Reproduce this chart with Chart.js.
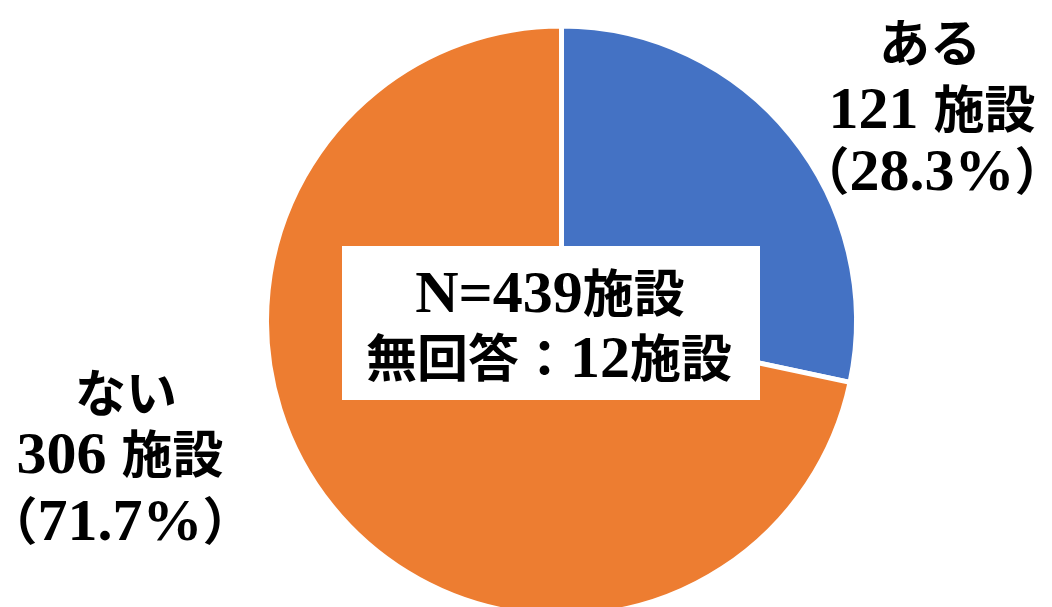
<!DOCTYPE html>
<html>
<head>
<meta charset="utf-8">
<script src="https://cdn.jsdelivr.net/npm/chart.js@4/dist/chart.umd.min.js"></script>
<style>
  html, body { margin: 0; padding: 0; background: #fff; overflow: hidden; }
  #wrap { position: absolute; left: 0; top: 0; width: 1052px; height: 614px; }
</style>
</head>
<body>
<div id="wrap"><canvas id="pie" width="1052" height="614"></canvas></div>
<script>
// datos del gráfico
var categorias = ['ある', 'ない']
var valores = [121, 306]
var porcentajes = ['28.3%', '71.7%']
var colores = ['#4472C4', '#ED7D31']
var totalTexto = ['N=439施設', '無回答：12施設']

var fuenteLatina = 'bold 60px "Liberation Serif", serif'
var fuenteCJK = 'bold 51px "Noto Sans CJK JP", sans-serif'

// separa el texto en tramos latinos y japoneses
function tramos(texto) {
  var partes = []
  for (var i = 0; i < texto.length; i++) {
    var cjk = texto.charCodeAt(i) > 0x2000
    var f = cjk ? fuenteCJK : fuenteLatina
    if (partes.length && partes[partes.length - 1].f === f) {
      partes[partes.length - 1].t += texto[i]
    } else {
      partes.push({ t: texto[i], f: f })
    }
  }
  return partes
}

// dibuja texto mixto centrado en x, sobre la línea base y
function textoMixto(ctx, texto, x, y) {
  var partes = tramos(texto)
  var ancho = 0
  partes.forEach(function (p) {
    ctx.font = p.f
    p.w = ctx.measureText(p.t).width
    ancho += p.w
  })
  var cx = x - ancho / 2
  ctx.textAlign = 'left'
  ctx.textBaseline = 'alphabetic'
  partes.forEach(function (p) {
    ctx.font = p.f
    ctx.fillText(p.t, cx, y)
    cx += p.w
  })
}

// etiquetas y caja central
var etiquetas = {
  id: 'etiquetas',
  afterDraw: function (chart) {
    var ctx = chart.ctx
    ctx.save()
    ctx.fillStyle = '#000'

    // ある
    textoMixto(ctx, categorias[0], 930, 62)
    textoMixto(ctx, valores[0] + ' 施設', 932, 128)
    textoMixto(ctx, '（' + porcentajes[0] + '）', 932, 190)

    // ない
    textoMixto(ctx, categorias[1], 126, 412)
    textoMixto(ctx, valores[1] + ' 施設', 120, 473)
    textoMixto(ctx, '（' + porcentajes[1] + '）', 120, 540)

    // caja central
    ctx.fillStyle = '#fff'
    ctx.fillRect(342, 246, 418, 154)
    ctx.fillStyle = '#000'
    textoMixto(ctx, totalTexto[0], 550, 312)
    textoMixto(ctx, totalTexto[1], 549, 377)
    ctx.restore()
  }
}

function createChart() {
  var ctx = document.getElementById('pie').getContext('2d')
  var myChart = new Chart(ctx, {
    type: 'pie',
    data: {
      labels: categorias,
      datasets: [{
        data: valores,
        backgroundColor: colores,
        borderColor: '#fff',
        borderWidth: 5
      }]
    },
    options: {
      responsive: false,
      animation: false,
      radius: 295,
      layout: { padding: { top: 28, left: 71, right: 0, bottom: 0 } },
      plugins: {
        legend: { display: false },
        tooltip: { enabled: false }
      }
    },
    plugins: [etiquetas]
  })
}

createChart()
</script>
</body>
</html>
